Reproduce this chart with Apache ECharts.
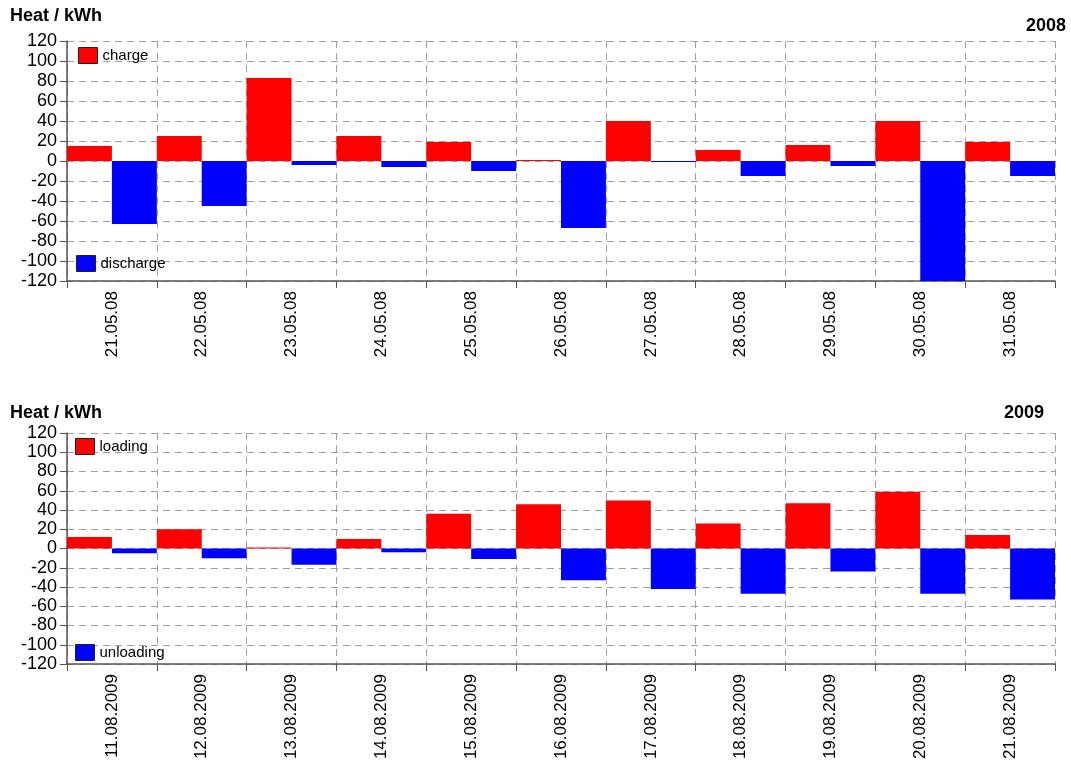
<!DOCTYPE html>
<html>
<head>
<meta charset="utf-8">
<script src="https://cdn.jsdelivr.net/npm/echarts@6/dist/echarts.min.js"></script>
<style>
  html, body { margin: 0; padding: 0; background: #fff; }
  #chart { width: 1071px; height: 774px; }
</style>
</head>
<body>
<div id="chart"></div>
<script>
// Daily heat storage balance, May 2008
const days2008 = ['21.05.08', '22.05.08', '23.05.08', '24.05.08', '25.05.08', '26.05.08',
                  '27.05.08', '28.05.08', '29.05.08', '30.05.08', '31.05.08'];
const charge2008 = [15, 25, 83, 25, 19, 1, 40, 11, 16, 40, 19];
const discharge2008 = [-63, -45, -4, -6, -10, -67, -1, -15, -5, -120, -15];

// Daily heat storage balance, August 2009
const days2009 = ['11.08.2009', '12.08.2009', '13.08.2009', '14.08.2009', '15.08.2009', '16.08.2009',
                  '17.08.2009', '18.08.2009', '19.08.2009', '20.08.2009', '21.08.2009'];
const loading2009 = [12, 20, 1, 10, 36, 46, 50, 26, 47, 59, 14];
const unloading2009 = [-5, -10, -17, -4, -11, -33, -42, -47, -24, -47, -53];

const FONT = '"Liberation Sans", Arial, Helvetica, sans-serif';
const gridDash = { color: '#a0a0a0', width: 1, type: [7, 5] };
const axisColor = '#555';

function xAxisFor(gridIndex, labels) {
  return {
    type: 'category', gridIndex: gridIndex, data: labels,
    boundaryGap: true, position: 'bottom',
    axisLine: { onZero: false, lineStyle: { color: axisColor, width: 1.5 } },
    axisTick: { show: true, length: 7, lineStyle: { color: axisColor } },
    splitLine: { show: true, lineStyle: gridDash },
    axisLabel: { rotate: 90, margin: 10, fontSize: 17, color: '#000', fontFamily: FONT }
  };
}
function yAxisFor(gridIndex) {
  return {
    type: 'value', gridIndex: gridIndex, min: -120, max: 120, interval: 20,
    axisLine: { show: true, lineStyle: { color: axisColor, width: 1.5 } },
    axisTick: { show: true, length: 7, lineStyle: { color: axisColor } },
    splitLine: { show: true, lineStyle: gridDash },
    axisLabel: { margin: 10, fontSize: 18, color: '#000', fontFamily: FONT }
  };
}
function legendAt(name, left, top) {
  return {
    data: [name], left: left, top: top, orient: 'vertical',
    itemWidth: 19, itemHeight: 16, icon: 'rect',
    itemStyle: { borderColor: '#222', borderWidth: 1 },
    selectedMode: false, padding: 0,
    textStyle: { fontSize: 15, color: '#000', fontFamily: FONT }
  };
}
function barSeries(name, data, axisIndex, color) {
  return {
    name: name, type: 'bar', data: data,
    xAxisIndex: axisIndex, yAxisIndex: axisIndex,
    barGap: '0%', barCategoryGap: '0%',
    itemStyle: { color: color },
    emphasis: { disabled: true }, animation: false
  };
}

const titleText = { fontSize: 18, fontWeight: 'bold', color: '#000', fontFamily: FONT };

const chart = echarts.init(document.getElementById('chart'), null, { renderer: 'canvas' });
chart.setOption({
  animation: false,
  backgroundColor: '#fff',
  title: [
    { text: 'Heat / kWh', left: 5, top: 2, textStyle: titleText },
    { text: '2008', right: 0, top: 12, textStyle: titleText },
    { text: 'Heat / kWh', left: 5, top: 399, textStyle: titleText },
    { text: '2009', right: 22, top: 399, textStyle: titleText }
  ],
  legend: [
    legendAt('charge', 78, 47),
    legendAt('discharge', 76, 255),
    legendAt('loading', 75, 438),
    legendAt('unloading', 75, 644)
  ],
  grid: [
    { left: 67, right: 16, top: 41, height: 240 },
    { left: 67, right: 16, top: 433, height: 231 }
  ],
  xAxis: [xAxisFor(0, days2008), xAxisFor(1, days2009)],
  yAxis: [yAxisFor(0), yAxisFor(1)],
  series: [
    barSeries('charge', charge2008, 0, '#ff0000'),
    barSeries('discharge', discharge2008, 0, '#0000ff'),
    barSeries('loading', loading2009, 1, '#ff0000'),
    barSeries('unloading', unloading2009, 1, '#0000ff')
  ]
});
</script>
</body>
</html>
